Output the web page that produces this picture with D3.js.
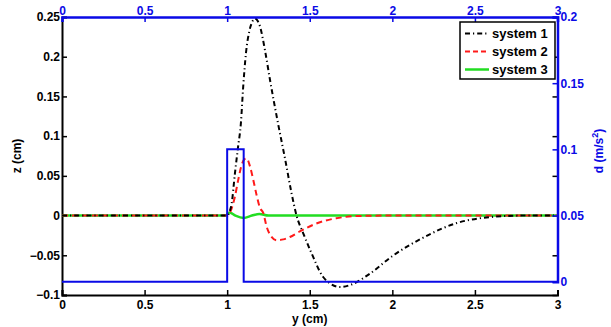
<!DOCTYPE html>
<html lang="en">
<head>
<meta charset="UTF-8">
<title>z and d vs y</title>
<style>
    body { margin: 0; background: #fff; }
    svg text { font-family: "Liberation Sans", Arial, sans-serif; font-weight: bold; }
</style>
</head>
<body>
<div id="chart"></div>
<script src="https://d3js.org/d3.v7.min.js"></script>
<script>
// series (y in cm, z in cm)
const s1X = [0, 1.0, 1.015, 1.027, 1.047, 1.065, 1.083, 1.097, 1.114, 1.134, 1.15, 1.168, 1.185, 1.199, 1.229, 1.26, 1.307, 1.35, 1.39, 1.42, 1.46, 1.51, 1.58, 1.62, 1.683, 1.75, 1.865, 2.0, 2.185, 2.39, 2.59, 2.79, 3.0];
const s1Z = [0, 0, 0.005, 0.015, 0.053, 0.085, 0.116, 0.162, 0.205, 0.232, 0.243, 0.248, 0.245, 0.238, 0.208, 0.17, 0.117, 0.072, 0.028, 0, -0.022, -0.047, -0.077, -0.085, -0.09, -0.087, -0.073, -0.051, -0.028, -0.0094, -0.002, 0, 0];

const s2X = [0, 1.0, 1.017, 1.047, 1.067, 1.088, 1.105, 1.118, 1.138, 1.158, 1.178, 1.198, 1.219, 1.239, 1.27, 1.30, 1.34, 1.38, 1.44, 1.54, 1.66, 1.8, 2.0, 3.0];
const s2Z = [0, 0, 0.004, 0.024, 0.045, 0.064, 0.071, 0.072, 0.062, 0.045, 0.026, 0.01, 0.003, -0.014, -0.027, -0.031, -0.03, -0.027, -0.02, -0.01, -0.0034, -0.0005, 0, 0];

const s3X = [0, 0.99, 1.015, 1.05, 1.1, 1.15, 1.195, 1.25, 3.0];
const s3Z = [0, 0, 0.004, 0, -0.003, 0, 0.002, 0, 0];

// disturbance pulse (d in m/s^2)
const dX = [0, 1, 1, 1.1, 1.1, 3];
const dV = [0, 0, 0.1, 0.1, 0, 0];

const xTicks = [0, 0.5, 1, 1.5, 2, 2.5, 3];
const xTickLabels = ["0", "0.5", "1", "1.5", "2", "2.5", "3"];
const zTicks = [-0.1, -0.05, 0, 0.05, 0.1, 0.15, 0.2, 0.25];
const zTickLabels = ["\u22120.1", "\u22120.05", "0", "0.05", "0.1", "0.15", "0.2", "0.25"];
const dTicks = [0, 0.05, 0.1, 0.15, 0.2];
const dTickLabels = ["0", "0.05", "0.1", "0.15", "0.2"];

const seriesNames = ["system 1", "system 2", "system 3"];

const width = 611, height = 327;
const mLeft = 62, mRight = 557.5, mTop = 17, mBottom = 295;
const blue = "#0a0ae6";
const green = "#22dd22";
const fontFam = '"Liberation Sans", Arial, sans-serif';

const svg = d3.select("#chart").append("svg")
    .attr("width", width)
    .attr("height", height);

const x = d3.scaleLinear().domain([0, 3]).range([mLeft, mRight]);
const z = d3.scaleLinear().domain([-0.1, 0.25]).range([mBottom, mTop]);
const dScale = d3.scaleLinear().domain([0, 0.2]).range([281.7, mTop]);

svg.append("clipPath").attr("id", "plot")
    .append("rect")
    .attr("x", mLeft).attr("y", mTop - 1)
    .attr("width", mRight - mLeft).attr("height", mBottom - mTop + 1);

function styleText(sel, color) {
    sel.attr("fill", color)
        .style("font-family", fontFam)
        .style("font-weight", "bold")
        .style("font-size", "12px");
}

// black axes: box with inward ticks on all sides
const gx = svg.append("g").attr("transform", `translate(0,${mBottom})`)
    .call(d3.axisBottom(x).tickValues(xTicks).tickSize(-5).tickFormat((d, i) => xTickLabels[i]));
const gz = svg.append("g").attr("transform", `translate(${mLeft},0)`)
    .call(d3.axisLeft(z).tickValues(zTicks).tickSize(-5).tickFormat((d, i) => zTickLabels[i]));
const gzr = svg.append("g").attr("transform", `translate(${mRight},0)`)
    .call(d3.axisRight(z).tickValues(zTicks).tickSize(-5).tickFormat(""));

[gx, gz, gzr].forEach(g => {
    g.select(".domain").attr("stroke", "#000").attr("stroke-width", 2);
    g.selectAll(".tick line").attr("stroke", "#000").attr("stroke-width", 1.5);
    styleText(g.selectAll("text"), "#000");
});
gx.selectAll("text").attr("y", 5).attr("dy", "0.71em");
gz.selectAll("text").attr("x", -2);
gzr.select(".domain").remove();

// data lines
const plot = svg.append("g").attr("clip-path", "url(#plot)");
const zLine = d3.line().x(d => x(d[0])).y(d => z(d[1])).curve(d3.curveMonotoneX);

plot.append("path")
    .datum(d3.zip(s3X, s3Z))
    .attr("d", zLine)
    .attr("fill", "none")
    .attr("stroke", green)
    .attr("stroke-width", 2.5);

plot.append("path")
    .datum(d3.zip(s2X, s2Z))
    .attr("d", zLine)
    .attr("fill", "none")
    .attr("stroke", "#ff1a1a")
    .attr("stroke-width", 2)
    .attr("stroke-dasharray", "6,4");

plot.append("path")
    .datum(d3.zip(s1X, s1Z))
    .attr("d", zLine)
    .attr("fill", "none")
    .attr("stroke", "#000")
    .attr("stroke-width", 2)
    .attr("stroke-dasharray", "5,3,1.2,3");

plot.append("path")
    .datum(d3.zip(dX, dV))
    .attr("d", d3.line().x(d => x(d[0])).y(d => dScale(d[1])))
    .attr("fill", "none")
    .attr("stroke", blue)
    .attr("stroke-width", 2);

// blue axes: top and right
const gt = svg.append("g").attr("transform", `translate(0,${mTop})`)
    .call(d3.axisTop(x).tickValues(xTicks).tickSize(-5).tickFormat((d, i) => xTickLabels[i]));
const gd = svg.append("g").attr("transform", `translate(${mRight},0)`)
    .call(d3.axisRight(dScale).tickValues(dTicks).tickSize(-5).tickFormat((d, i) => dTickLabels[i]));
[gt, gd].forEach(g => {
    g.select(".domain").attr("stroke", blue).attr("stroke-width", 2.5);
    g.selectAll(".tick line").attr("stroke", blue).attr("stroke-width", 1.5);
    styleText(g.selectAll("text"), blue);
});
gt.selectAll("text").attr("y", -2);
gd.selectAll("text").attr("x", 3);

// axis titles
styleText(svg.append("text")
    .attr("x", (mLeft + mRight) / 2).attr("y", 323)
    .attr("text-anchor", "middle")
    .text("y (cm)"), "#000");

styleText(svg.append("text")
    .attr("transform", "translate(21,156) rotate(-90)")
    .attr("text-anchor", "middle")
    .text("z (cm)"), "#000");

const dTitle = svg.append("text")
    .attr("transform", "translate(603,151) rotate(-90)")
    .attr("text-anchor", "middle");
styleText(dTitle, blue);
dTitle.append("tspan").text("d (m/s");
dTitle.append("tspan").attr("dy", -5).style("font-size", "9px").text("2");
dTitle.append("tspan").attr("dy", 5).text(")");

// legend
const legend = svg.append("g").attr("transform", "translate(460,22)");
legend.append("rect")
    .attr("width", 95).attr("height", 57)
    .attr("fill", "#fff").attr("stroke", "#000").attr("stroke-width", 1.5);

const legendStyles = [
    { stroke: "#000", dash: "5,3,1.2,3", w: 2 },
    { stroke: "#ff1a1a", dash: "5,3", w: 2 },
    { stroke: green, dash: null, w: 2.5 }
];
seriesNames.forEach((name, i) => {
    const yy = 11.5 + i * 18;
    legend.append("line")
        .attr("x1", 5).attr("x2", 29)
        .attr("y1", yy).attr("y2", yy)
        .attr("stroke", legendStyles[i].stroke)
        .attr("stroke-width", legendStyles[i].w)
        .attr("stroke-dasharray", legendStyles[i].dash);
    styleText(legend.append("text")
        .attr("x", 32).attr("y", yy)
        .attr("dy", "0.35em")
        .text(name), "#000");
    legend.selectAll("text").style("font-size", "13px");
});
</script>
</body>
</html>
